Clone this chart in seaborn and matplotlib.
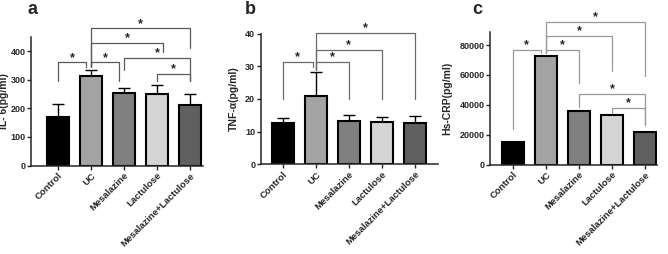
import matplotlib
matplotlib.use("Agg")
import matplotlib.pyplot as plt
import pandas as pd
import seaborn as sns

groups = ["Control", "UC", "Mesalazine", "Lactulose", "Mesalazine+Lactulose"]
colors = ["#000000", "#a3a3a3", "#808080", "#d4d4d4", "#5f5f5f"]

il6_mean = [168, 312, 252, 249, 212]
il6_err = [47, 23, 20, 33, 38]
tnf_mean = [12.6, 20.8, 13.1, 13.0, 12.7]
tnf_err = [1.55, 7.4, 1.85, 1.45, 2.0]
crp_mean = [15000, 72500, 35800, 33500, 22000]

# significance brackets: (i, j, x-shift of j leg, top, left leg end, right leg end)
il6_sig = [
    (0, 1, -0.15, 360, 294, 343),
    (1, 2, -0.15, 360, 343, 294),
    (1, 3, 0.17, 427, 343, 395),
    (1, 4, 0.0, 479, 343, 409),
    (2, 4, 0.0, 375, 333, 294),
    (3, 4, 0.0, 319, 294, 294),
]
tnf_sig = [
    (0, 1, -0.1, 31.3, 20.1, 29.9),
    (1, 2, 0.0, 31.3, 29.0, 20.1),
    (1, 3, 0.0, 35.0, 29.0, 20.1),
    (1, 4, 0.0, 40.1, 29.0, 20.1),
]
crp_sig = [
    (0, 1, -0.16, 77000, 23800, 74800),
    (1, 2, 0.0, 77000, 74800, 54650),
    (1, 3, 0.0, 86400, 74800, 62700),
    (1, 4, 0.0, 95800, 74800, 59350),
    (2, 4, 0.0, 47100, 38600, 26500),
    (3, 4, 0.0, 38100, 34500, 26500),
]


def draw_panel(ax, means, errs, sig, ylim, yticks, ylabel, xlim, line_color, label_x):
    df = pd.DataFrame({"group": groups, "value": means})
    sns.barplot(data=df, x="group", y="value", hue="group", order=groups,
                hue_order=groups, palette=colors, edgecolor="black",
                linewidth=1.5, width=0.67, legend=False, ax=ax, zorder=2)
    if errs is not None:
        ax.errorbar(range(len(groups)), means, yerr=[[0] * len(errs), errs],
                    fmt="none", ecolor="black", elinewidth=1.0, capsize=4,
                    capthick=1.0, zorder=1)
    for i, j, dj, top, yi, yj in sig:
        xi, xj = i, j + dj
        ax.plot([xi, xi, xj, xj], [yi, top, top, yj], color=line_color,
                lw=0.9, clip_on=False, zorder=3)
        ax.annotate("*", xy=((xi + xj) / 2, top), xytext=(0, 1.2),
                    textcoords="offset points", ha="center", va="baseline",
                    fontsize=9, fontweight="bold", annotation_clip=False)
    ax.set_ylim(*ylim)
    ax.set_xlim(*xlim)
    ax.set_yticks(yticks)
    ax.set_yticklabels([str(t) for t in yticks], fontsize=6.5, fontweight="bold")
    ax.set_xticks(range(len(groups)))
    ax.set_xticklabels(groups, rotation=45, ha="right", rotation_mode="anchor",
                       fontsize=6.8, fontweight="bold")
    ax.set_xlabel("")
    ax.set_ylabel(ylabel, fontsize=7.5, fontweight="bold")
    ax.yaxis.set_label_coords(label_x, 0.5)
    for s in ["top", "right"]:
        ax.spines[s].set_visible(False)
    for s in ["left", "bottom"]:
        ax.spines[s].set_linewidth(1.1)
    ax.tick_params(axis="both", length=2.8, width=1.0, pad=1.2)


sns.set_style("ticks")
plt.rcParams["font.family"] = ["Liberation Sans", "DejaVu Sans"]

fig = plt.figure(figsize=(6.68, 2.54), dpi=100)
W, H = 668, 254

ax_a = fig.add_axes([31 / W, (H - 165.5) / H, 172 / W, 128.8 / H])
ax_b = fig.add_axes([260.7 / W, (H - 164.3) / H, 177.3 / W, 130.7 / H])
ax_c = fig.add_axes([490.5 / W, (H - 164.5) / H, 166.5 / W, 132.8 / H])

draw_panel(ax_a, il6_mean, il6_err, il6_sig, (0, 450), [0, 100, 200, 300, 400],
           "IL- 6(pg/ml)", (-0.82, 4.39), "#5a5a5a", -0.13)
draw_panel(ax_b, tnf_mean, tnf_err, tnf_sig, (0, 40), [0, 10, 20, 30, 40],
           "TNF-α(pg/ml)", (-0.67, 4.7), "#6a6a6a", -0.125)
draw_panel(ax_c, crp_mean, None, crp_sig, (0, 89000), [0, 20000, 40000, 60000, 80000],
           "Hs-CRP(pg/ml)", (-0.68, 4.36), "#9a9a9a", -0.232)

for x, letter in [(28, "a"), (245, "b"), (472, "c")]:
    fig.text(x / W, 1 - 14.5 / H, letter, fontsize=13, fontweight="bold",
             ha="left", va="baseline")

fig.savefig("out.png", dpi=100)
